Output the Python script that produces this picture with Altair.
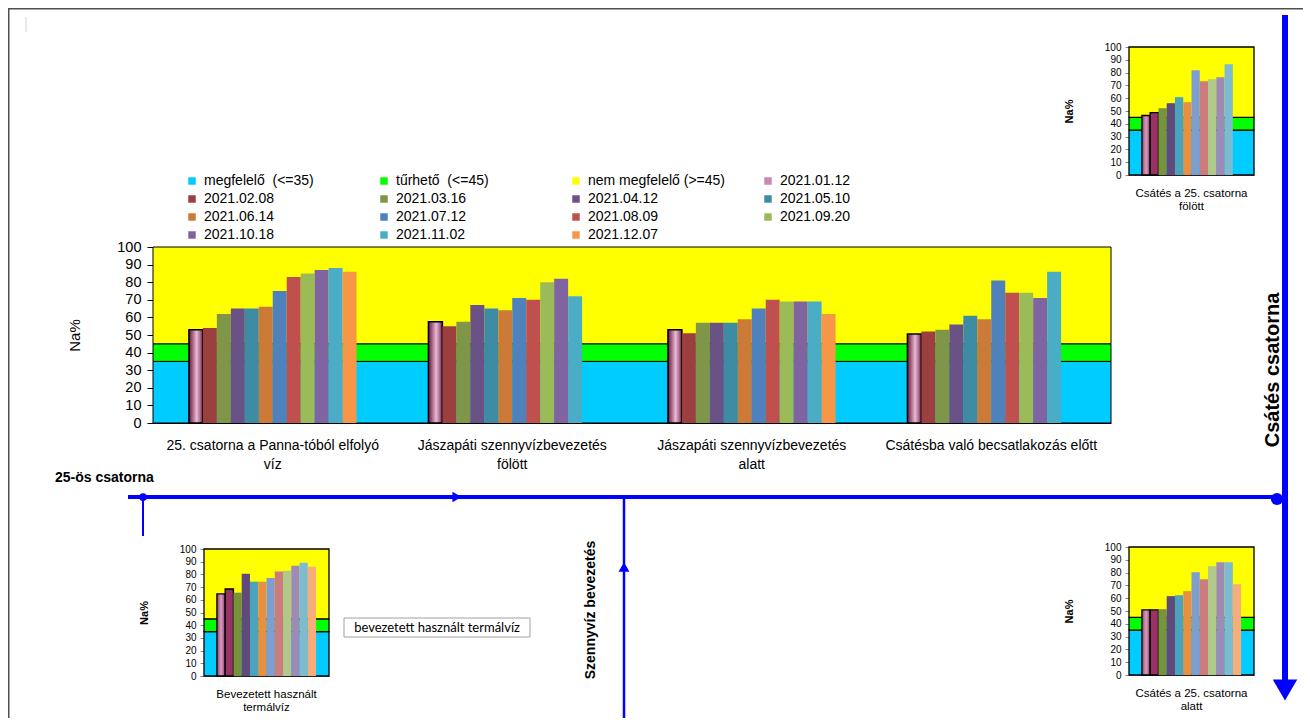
import altair as alt
import pandas as pd

# ---------------- data ----------------
dates = ["2021.01.12", "2021.02.08", "2021.03.16", "2021.04.12", "2021.05.10", "2021.06.14",
         "2021.07.12", "2021.08.09", "2021.09.20", "2021.10.18", "2021.11.02", "2021.12.07"]

categories = ["25. csatorna a Panna-tóból elfolyó\nvíz",
              "Jászapáti szennyvízbevezetés\nfölött",
              "Jászapáti szennyvízbevezetés\nalatt",
              "Csátésba való becsatlakozás előtt"]

v_panna = [53, 54, 62, 65, 65, 66, 75, 83, 85, 87, 88, 86]
v_jasz_folott = [57.5, 55, 57.5, 67, 65, 64, 71, 70, 80, 82, 72, None]
v_jasz_alatt = [53, 51, 57, 57, 57, 59, 65, 70, 69, 69, 69, 62]
v_csates_elott = [50.5, 52, 53, 56, 61, 59, 81, 74, 74, 71, 86, None]
main_series = [v_panna, v_jasz_folott, v_jasz_alatt, v_csates_elott]

tr_label = "Csátés a 25. csatorna\nfölött"
tr_values = [46.5, 48.8, 52.2, 56.1, 60.8, 56.9, 81.8, 73.2, 74.8, 76.4, 86.5, None]
br_label = "Csátés a 25. csatorna\nalatt"
br_values = [50.9, 50.9, 51.4, 61.6, 62.3, 65.5, 80.3, 74.8, 84.9, 88.0, 88.0, 70.9]
bl_label = "Bevezetett használt\ntermálvíz"
bl_values = [64.6, 68.5, 65.6, 80.6, 74.3, 74.3, 77.2, 82.2, 82.9, 86.9, 89.2, 86.1]

band_names = ["megfelelő\u00a0 (<=35)", "tűrhető\u00a0 (<=45)", "nem megfelelő (>=45)"]
band_lo = [0, 35, 45]
band_hi = [35, 45, 100]
y_ticks = [0, 10, 20, 30, 40, 50, 60, 70, 80, 90, 100]

# ---------------- styles ----------------
band_colors = ["#00CCFF", "#00FF00", "#FFFF00"]
main_colors = ["#C98AAE", "#9C3F3F", "#7F9648", "#6A5287", "#3D8CA3", "#CC7A38",
               "#4F81BD", "#C0504D", "#9BBB59", "#8064A2", "#4BACC6", "#F79646"]
small_colors = ["#B8709A", "#993366", "#77933C", "#604A7B", "#4BA3BE", "#E8903F",
                "#7F9ED0", "#CC7C7C", "#B0C88A", "#9E8AB6", "#7DBBD0", "#F6AD7A"]

grad_main = {"gradient": "linear", "x1": 0, "y1": 0, "x2": 1, "y2": 0,
             "stops": [{"offset": 0, "color": "#5E1A3E"}, {"offset": 0.25, "color": "#A65C84"},
                       {"offset": 0.55, "color": "#E6BDD0"}, {"offset": 0.8, "color": "#B06C92"},
                       {"offset": 1, "color": "#5E1A3E"}]}
grad_small = {"gradient": "linear", "x1": 0, "y1": 0, "x2": 1, "y2": 0,
              "stops": [{"offset": 0, "color": "#8E3E6C"}, {"offset": 0.5, "color": "#D9A0BE"},
                        {"offset": 1, "color": "#8E3E6C"}]}

W, H = 1295, 710
FONT = "Liberation Sans"


def px(v):
    return v - 8


MAIN_X = [px(153), px(1111)]
MAIN_Y = [px(423), px(247)]
TR_X = [px(1129), px(1254)]
TR_Y = [px(175), px(47)]
BR_X = [px(1129), px(1254)]
BR_Y = [px(675), px(547)]
BL_X = [px(204), px(329)]
BL_Y = [px(676), px(549)]

color_scale = alt.Scale(domain=band_names + dates, range=band_colors + main_colors)
legend = alt.Legend(title=None, orient="none", legendX=px(185), legendY=px(174), columns=4,
                    direction="horizontal", gridAlign="all", columnPadding=36, rowPadding=4,
                    symbolType="square", symbolSize=56, symbolStrokeWidth=0, labelFontSize=14,
                    labelFont=FONT, labelColor="black", labelLimit=0, labelOffset=5)

layers = []

# ---------- main chart ----------
band_df = pd.DataFrame({"band": band_names, "lo": band_lo, "hi": band_hi,
                        "x0": [0] * 3, "x1": [1] * 3, "hex": band_colors})

layers.append(
    alt.Chart(band_df).mark_rect(stroke="black", strokeWidth=1).encode(
        x=alt.X("x0:Q", scale=alt.Scale(domain=[0, 1], range=MAIN_X), axis=None),
        x2="x1:Q",
        y=alt.Y("lo:Q", scale=alt.Scale(domain=[0, 100], range=MAIN_Y), axis=None),
        y2="hi:Q",
        color=alt.Color("band:N", scale=color_scale, legend=legend),
    )
)

main_rows = []
for c, vals in zip(categories, main_series):
    for d, v in zip(dates, vals):
        if v is not None:
            main_rows.append({"cat": c, "date": d, "value": v})
main_df = pd.DataFrame(main_rows)

is_first = alt.datum.date == dates[0]

layers.append(
    alt.Chart(main_df).mark_bar().encode(
        x=alt.X("cat:N", sort=categories,
                scale=alt.Scale(domain=categories, range=MAIN_X, paddingInner=0.3, paddingOuter=0.15),
                axis=alt.Axis(orient="bottom", offset=MAIN_Y[0] - H, title=None, labelAngle=0,
                              labelExpr="split(datum.label, '\\n')", labelFontSize=14,
                              labelLineHeight=19, labelPadding=15, ticks=False, tickSize=0,
                              labelLimit=0, labelOverlap=False, domainColor="black")),
        xOffset=alt.XOffset("date:N", sort=dates, scale=alt.Scale(domain=dates)),
        y=alt.Y("value:Q", scale=alt.Scale(domain=[0, 100], range=MAIN_Y),
                axis=alt.Axis(orient="left", offset=-MAIN_X[0], values=y_ticks, tickSize=6,
                              labelPadding=6, labelFontSize=14.5, title="Na%", titleFontSize=15,
                              titleFontWeight="normal", titlePadding=34, grid=False,
                              labelOverlap=False, domainColor="black", tickColor="black")),
        color=alt.condition(is_first, alt.value(grad_main),
                            alt.Color("date:N", scale=color_scale, legend=legend)),
        stroke=alt.condition(is_first, alt.value("black"), alt.value("transparent")),
        strokeWidth=alt.condition(is_first, alt.value(1.5), alt.value(0)),
    )
)


# ---------- small charts ----------
def small_panel(label, values, xr, yr):
    bdf = band_df.copy()
    out = [
        alt.Chart(bdf).mark_rect(stroke="black", strokeWidth=1.3).encode(
            x=alt.X("x0:Q", scale=alt.Scale(domain=[0, 1], range=xr), axis=None),
            x2="x1:Q",
            y=alt.Y("lo:Q", scale=alt.Scale(domain=[0, 100], range=yr), axis=None),
            y2="hi:Q",
            fill=alt.Fill("hex:N", scale=None),
        )
    ]
    rows = [{"cat": label, "date": d, "value": v, "hex": h}
            for d, v, h in zip(dates, values, small_colors) if v is not None]
    sdf = pd.DataFrame(rows)
    first_two = alt.FieldOneOfPredicate(field="date", oneOf=dates[:2])
    out.append(
        alt.Chart(sdf).mark_bar().encode(
            x=alt.X("cat:N", scale=alt.Scale(domain=[label], range=xr, paddingInner=0, paddingOuter=0.13),
                    axis=alt.Axis(orient="bottom", offset=yr[0] - H, title=None, labelAngle=0,
                                  labelExpr="split(datum.label, '\\n')", labelFontSize=11.5,
                                  labelLineHeight=13, labelPadding=12, ticks=False, tickSize=0,
                                  labelLimit=0, labelOverlap=False, domainColor="#888888")),
            xOffset=alt.XOffset("date:N", sort=dates, scale=alt.Scale(domain=dates)),
            y=alt.Y("value:Q", scale=alt.Scale(domain=[0, 100], range=yr),
                    axis=alt.Axis(orient="left", offset=-xr[0], values=y_ticks, tickSize=4,
                                  labelPadding=4, labelFontSize=10, title="Na%", titleFontSize=11,
                                  titleFontWeight="bold", titlePadding=30, grid=False,
                                  labelOverlap=False, domainColor="#888888", tickColor="#888888")),
            fill=alt.condition(is_first, alt.value(grad_small), alt.Fill("hex:N", scale=None)),
            stroke=alt.condition(first_two, alt.value("black"), alt.value("transparent")),
            strokeWidth=alt.condition(first_two, alt.value(1.3), alt.value(0)),
        )
    )
    return out


layers += small_panel(tr_label, tr_values, TR_X, TR_Y)
layers += small_panel(br_label, br_values, BR_X, BR_Y)
layers += small_panel(bl_label, bl_values, BL_X, BL_Y)

# ---------- schematic (decoration, pixel positions) ----------
seg_df = pd.DataFrame({
    "x": [px(128), px(143), px(624), px(1285)],
    "x2": [px(1278), px(143), px(624), px(1285)],
    "y": [px(497), px(497), px(497), px(15)],
    "y2": [px(497), px(536), px(718), px(686)],
    "w": [4, 2, 2.5, 6],
})
layers.append(
    alt.Chart(seg_df).mark_rule(color="#0000FF").encode(
        x=alt.X("x:Q", scale=None), x2="x2:Q",
        y=alt.Y("y:Q", scale=None), y2="y2:Q",
        strokeWidth=alt.StrokeWidth("w:Q", scale=None),
    )
)
pts_df = pd.DataFrame({
    "x": [px(143), px(457), px(624), px(1285), px(1277)],
    "y": [px(497), px(497), px(567), px(690), px(499)],
    "shape": ["circle", "triangle-right", "triangle-up", "triangle-down", "circle"],
    "s": [60, 110, 120, 600, 150],
})
layers.append(
    alt.Chart(pts_df).mark_point(filled=True, color="#0000FF", opacity=1).encode(
        x=alt.X("x:Q", scale=None), y=alt.Y("y:Q", scale=None),
        shape=alt.Shape("shape:N", scale=None),
        size=alt.Size("s:Q", scale=None),
    )
)

# frame lines
frame_df = pd.DataFrame({"x": [0.5, 0], "x2": [0.5, W], "y": [0, 0.5], "y2": [H, 0.5]})
layers.append(
    alt.Chart(frame_df).mark_rule(color="#505050", strokeWidth=2).encode(
        x=alt.X("x:Q", scale=None), x2="x2:Q", y=alt.Y("y:Q", scale=None), y2="y2:Q")
)
cursor_df = pd.DataFrame({"x": [px(26)], "y": [px(17)], "y2": [px(32)]})
layers.append(
    alt.Chart(cursor_df).mark_rule(color="#D0D0D0", strokeWidth=1).encode(
        x=alt.X("x:Q", scale=None), y=alt.Y("y:Q", scale=None), y2="y2:Q")
)

# box
box_df = pd.DataFrame({"x": [px(344)], "x2": [px(530)], "y": [px(618)], "y2": [px(637)]})
layers.append(
    alt.Chart(box_df).mark_rect(fill="white", stroke="#A0A0A0", strokeWidth=1).encode(
        x=alt.X("x:Q", scale=None), x2="x2:Q", y=alt.Y("y:Q", scale=None), y2="y2:Q")
)


def text_layer(txt, x, y, size, weight="normal", angle=0, align="left", font=FONT):
    return alt.Chart(pd.DataFrame({"t": [txt]})).mark_text(
        fontSize=size, fontWeight=weight, angle=angle, align=align, baseline="middle",
        font=font, color="black").encode(x=alt.value(px(x)), y=alt.value(px(y)), text="t:N")


layers.append(text_layer("25-ös csatorna", 55, 478, 14, "bold"))
layers.append(text_layer("Szennyvíz bevezetés", 591, 610, 14, "bold", 270, "center"))
layers.append(text_layer("Csátés csatorna", 1273, 370, 20, "bold", 270, "center"))
layers.append(text_layer("bevezetett használt termálvíz", 437, 628, 13, "normal", 0, "center", "Lato"))

chart = alt.layer(*layers).resolve_scale(
    x="independent", y="independent", xOffset="independent", color="shared"
).properties(
    width=W, height=H, autosize="none", padding=0
).configure(
    font=FONT, background="white"
).configure_view(stroke=None).configure_axis(
    labelFont=FONT, titleFont=FONT, labelColor="black", titleColor="black", grid=False
)

chart.save("out.html", embed_options={"renderer": "svg", "actions": False})
